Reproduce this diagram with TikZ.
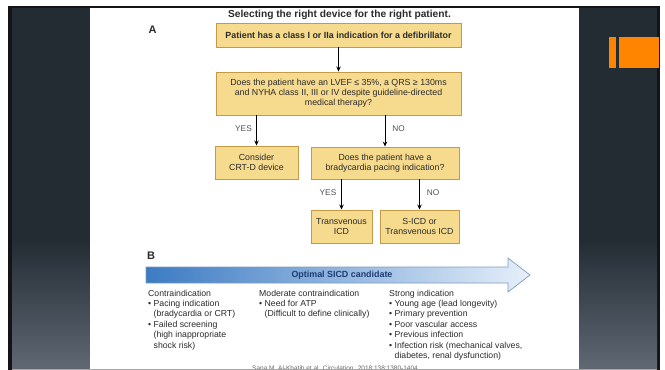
\documentclass[tikz,border=0pt]{standalone}
\usepackage{fontspec}
\setmainfont{Liberation Sans}
\usetikzlibrary{arrows.meta}
\definecolor{panel}{HTML}{232B33}
\definecolor{panelb}{HTML}{5F6873}
\definecolor{boxfill}{HTML}{F6DA8E}
\definecolor{boxline}{HTML}{C49A48}
\definecolor{txt}{HTML}{2B2B2B}
\definecolor{lbl}{HTML}{505050}
\definecolor{arrL}{HTML}{3C7BC3}
\definecolor{arrR}{HTML}{E6EFFA}
\definecolor{arrline}{HTML}{7F9CC0}
\definecolor{arrtxt}{HTML}{1E3C73}
\definecolor{orng}{HTML}{FF8500}
\definecolor{cite}{HTML}{666666}
\tikzset{
  flowbox/.style={draw=boxline, fill=boxfill, line width=0.9pt, inner sep=0pt,
    align=center, text=txt, font=\fontsize{8.8}{10}\selectfont},
  conn/.style={line width=0.9pt, -{Stealth[length=5pt,width=4.5pt]}},
  yn/.style={text=lbl, font=\fontsize{8.3}{9}\selectfont, inner sep=0pt},
  coltext/.style={anchor=north west, align=left, inner sep=0pt, text=txt,
    font=\fontsize{8.7}{10.4}\selectfont},
}
\begin{document}
\begin{tikzpicture}[x=1pt, y=-1pt]
\useasboundingbox (0,0) rectangle (665,370);
\fill[white] (0,0) rectangle (665,370);
% frame
\fill[black!92] (8,6) rectangle (660,369.5);
% left panel
\fill[panel] (12,8) rectangle (90,240);
\shade[top color=panel, bottom color=panelb] (12,239.5) rectangle (90,369);
% right panel
\fill[panel] (579,8) rectangle (657,240);
\shade[top color=panel, bottom color=panelb] (579,239.5) rectangle (657,369);
% slide
\fill[white] (90,8) rectangle (579,368.5);
\draw[gray!70, line width=1pt] (12,369) -- (657,369);
% orange marker
\fill[orng] (609,37) rectangle (616,68);
\fill[orng] (619,37) rectangle (659,68);

% title
\node[font=\bfseries\fontsize{10.2}{11}\selectfont, text=txt, inner sep=0pt] (title) at (339.5,15) {Selecting the right device for the right patient.};
\node[font=\bfseries\fontsize{11}{12}\selectfont, text=txt, inner sep=0pt] (labA) at (152.5,30) {A};

% boxes
\node[flowbox, minimum width=245pt, minimum height=24pt, font=\bfseries\fontsize{8.9}{10}\selectfont] (b1) at (338.5,35) {Patient has a class I or IIa indication for a defibrillator};
\node[flowbox, minimum width=245pt, minimum height=43pt] (b2) at (338.5,93.5) {Does the patient have an LVEF ≤ 35\%, a QRS ≥ 130ms\\and NYHA class II, III or IV despite guideline-directed\\medical therapy?};
\node[flowbox, minimum width=83pt, minimum height=33pt] (crt) at (256.5,162.5) {Consider\\CRT-D device};
\node[flowbox, minimum width=148pt, minimum height=32pt] (b3) at (385,163) {Does the patient have a\\bradycardia pacing indication?};
\node[flowbox, minimum width=61pt, minimum height=33pt] (tv) at (341.5,226.5) {Transvenous\\ICD};
\node[flowbox, minimum width=79pt, minimum height=33pt] (sicd) at (419.5,226.5) {S-ICD or\\Transvenous ICD};

% connectors
\draw[conn] (b1.south) -- (b2.north);
\draw[conn] (b2.south -| crt.north) -- (crt.north);
\draw[conn] (b2.south -| b3.north) -- (b3.north);
\draw[conn] (b3.south -| tv.north) -- (tv.north);
\draw[conn] (b3.south -| sicd.north) -- (sicd.north);

% labels
\node[yn] (y1) at (243.5,129) {YES};
\node[yn] (n1) at (398.5,129) {NO};
\node[yn] (y2) at (328,193) {YES};
\node[yn] (n2) at (433,193) {NO};

% section B
\node[font=\bfseries\fontsize{11}{12}\selectfont, text=txt, inner sep=0pt] (labB) at (151,256) {B};
\path[left color=arrL, right color=arrR, draw=arrline, line width=0.7pt]
  (146,267) -- (508,267) -- (508,258) -- (530,275) -- (508,292) -- (508,283) -- (146,283) -- cycle;
\node[font=\bfseries\fontsize{8.9}{10}\selectfont, text=arrtxt, inner sep=0pt] (opt) at (342,275.5) {Optimal SICD candidate};

\node[coltext] (c1) at (148,289.5) {Contraindication\\
• Pacing indication\\
\phantom{• }(bradycardia or CRT)\\
• Failed screening\\
\phantom{• }(high inappropriate\\
\phantom{• }shock risk)};
\node[coltext] (c2) at (259,289.5) {Moderate contraindication\\
• Need for ATP\\
\phantom{• }(Difficult to define clinically)};
\node[coltext] (c3) at (389,289.5) {Strong indication\\
• Young age (lead longevity)\\
• Primary prevention\\
• Poor vascular access\\
• Previous infection\\
• Infection risk (mechanical valves,\\
\phantom{• }diabetes, renal dysfunction)};

\begin{scope}
\clip (90,8) rectangle (579,368.3);
\node[anchor=north, inner sep=0pt, text=cite, font=\fontsize{6.5}{7}\selectfont] (ref) at (335,365.2) {Sana M. Al-Khatib et al. Circulation. 2018;138:1380-1404};
\end{scope}
\end{tikzpicture}
\end{document}
